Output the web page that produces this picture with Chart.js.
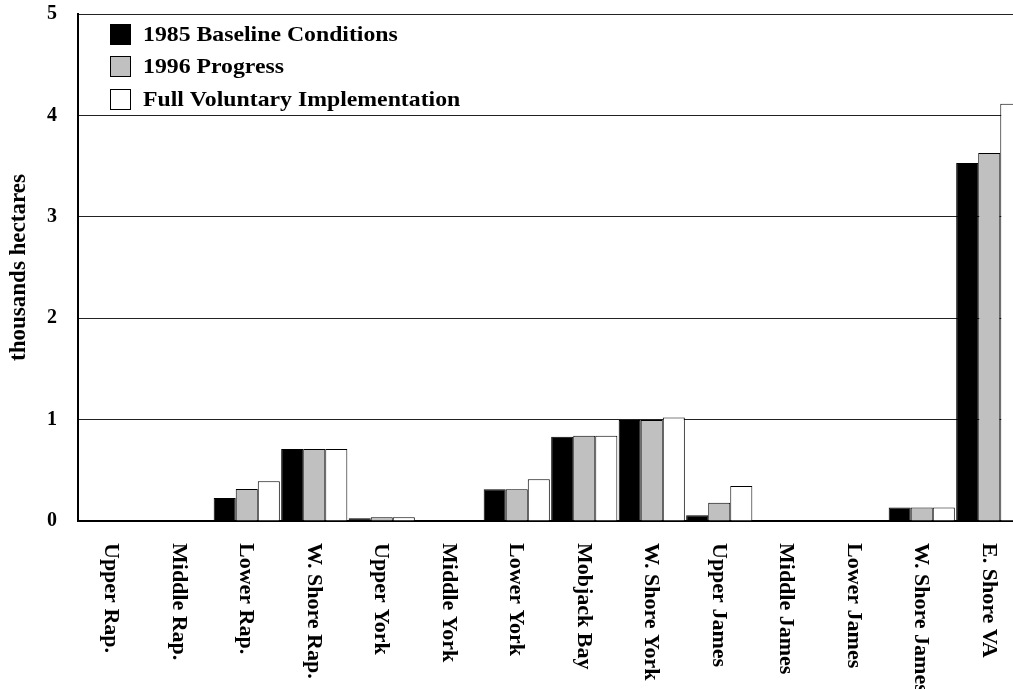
<!DOCTYPE html>
<html>
<head>
<meta charset="utf-8">
<script src="https://cdn.jsdelivr.net/npm/chart.js@4.4.1/dist/chart.umd.min.js"></script>
<style>
  html, body { margin: 0; padding: 0; background: #fff; overflow: hidden; }
  #wrap { width: 1040px; height: 708px; margin-top: -19px; }
</style>
</head>
<body>
<div id="wrap"><canvas id="hectaresChart" width="1040" height="708"></canvas></div>
<script>
const regions = ['Upper Rap.', 'Middle Rap.', 'Lower Rap.', 'W. Shore Rap.', 'Upper York', 'Middle York',
  'Lower York', 'Mobjack Bay', 'W. Shore York', 'Upper James', 'Middle James', 'Lower James',
  'W. Shore James', 'E. Shore VA'];
const seriesNames = ['1985 Baseline Conditions', '1996 Progress', 'Full Voluntary Implementation'];
const baseline1985 = [0.005, 0.005, 0.227, 0.711, 0.027, 0.005, 0.313, 0.83, 0.995, 0.056, 0.005, 0.005, 0.132, 3.53];
const progress1996 = [0.005, 0.005, 0.316, 0.711, 0.037, 0.005, 0.313, 0.84, 0.995, 0.18, 0.005, 0.005, 0.132, 3.63];
const fullVoluntary = [0.005, 0.005, 0.392, 0.711, 0.037, 0.005, 0.412, 0.84, 1.02, 0.346, 0.005, 0.005, 0.132, 4.115];
const yTicks = [0, 1, 2, 3, 4, 5];

const serif = '"Liberation Serif", "Times New Roman", serif';
const barColors = ['#000000', '#c0c0c0', '#ffffff'];

// legend drawn inside the plot, top left
const boxLegend = {
  id: 'boxLegend',
  afterDraw(chart) {
    const ctx = chart.ctx;
    const area = chart.chartArea;
    ctx.save();
    ctx.font = 'bold 22px ' + serif;
    ctx.textBaseline = 'middle';
    ctx.textAlign = 'left';
    chart.data.datasets.forEach((ds, i) => {
      const x = area.left + 32;
      const y = Math.round(area.top + 9.5 + i * 32.5);
      ctx.fillStyle = ds.backgroundColor;
      ctx.fillRect(x, y, 21, 21);
      ctx.strokeStyle = '#000';
      ctx.lineWidth = 1;
      ctx.strokeRect(x + 0.5, y + 0.5, 20, 20);
      ctx.fillStyle = '#000';
      ctx.save();
      ctx.translate(x + 33, y + 11);
      ctx.scale(1.08, 1);
      ctx.fillText(ds.label, 0, 0);
      ctx.restore();
    });
    ctx.restore();
  }
};

// category labels, rotated clockwise under the axis
const sideLabels = {
  id: 'sideLabels',
  afterDraw(chart) {
    const ctx = chart.ctx;
    const xScale = chart.scales.x;
    ctx.save();
    ctx.font = 'bold 22px ' + serif;
    ctx.fillStyle = '#000';
    ctx.textAlign = 'left';
    ctx.textBaseline = 'middle';
    regions.forEach((name, i) => {
      const x = xScale.getPixelForTick(i);
      ctx.save();
      ctx.translate(x - 1, chart.chartArea.bottom + 22);
      ctx.rotate(Math.PI / 2);
      ctx.fillText(name, 0, 0);
      ctx.restore();
    });
    ctx.restore();
  }
};

const datasets = [baseline1985, progress1996, fullVoluntary].map((vals, i) => ({
  label: seriesNames[i],
  data: vals,
  backgroundColor: barColors[i],
  borderColor: '#000',
  borderWidth: 1,
  categoryPercentage: 0.98,
  barPercentage: 1
}));

new Chart(document.getElementById('hectaresChart'), {
  type: 'bar',
  data: { labels: regions, datasets: datasets },
  options: {
    responsive: false,
    animation: false,
    layout: { padding: { left: 0, top: 0, right: 17, bottom: 168 } },
    plugins: {
      legend: { display: false },
      tooltip: { enabled: false }
    },
    scales: {
      x: {
        grid: { display: false, drawTicks: false },
        ticks: { display: false },
        border: { display: true, color: '#000', width: 2 }
      },
      y: {
        min: 0,
        max: 5,
        afterBuildTicks: scale => { scale.ticks = yTicks.map(v => ({ value: v })); },
        afterFit: scale => { scale.width = 78; },
        ticks: {
          color: '#000',
          padding: 21,
          font: { family: serif, size: 20, weight: 'bold' }
        },
        grid: { color: '#222', lineWidth: 1, drawTicks: false },
        border: { display: true, color: '#000', width: 2 },
        title: {
          display: true,
          text: 'thousands hectares',
          color: '#000',
          padding: { top: 5, bottom: 0 },
          font: { family: serif, size: 23, weight: 'bold' }
        }
      }
    }
  },
  plugins: [boxLegend, sideLabels]
});
</script>
</body>
</html>
